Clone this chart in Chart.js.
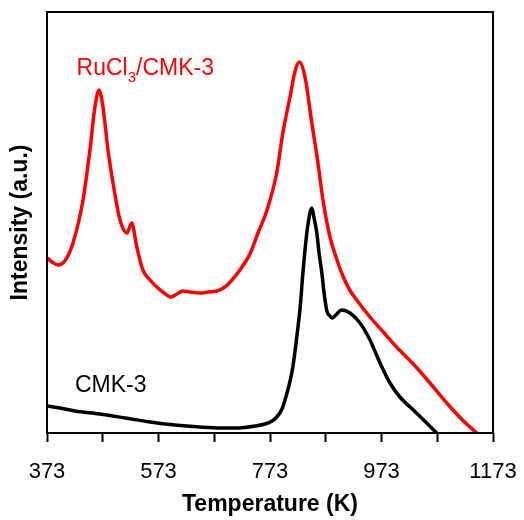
<!DOCTYPE html>
<html>
<head>
<meta charset="utf-8">
<script src="https://cdn.jsdelivr.net/npm/chart.js@4.4.1/dist/chart.umd.min.js"></script>
<style>
  html, body { margin: 0; padding: 0; background: #fff; }
  #wrap { width: 524px; height: 520px; }
</style>
</head>
<body>
<div id="wrap"><canvas id="tpd" width="524" height="520"></canvas></div>
<script>
    // Data (temperature in K, intensity in arbitrary units)
    const ruTemp = [373.5, 382, 392.7, 405, 419.6, 437.6, 450, 459, 466.3, 473.4, 482.4, 491.4, 504, 516.5, 525, 534, 545, 557.7, 570, 583, 595.4, 606, 617, 629.5, 647.4, 662, 678, 692, 704.8, 719, 737, 751.5, 767, 785, 796, 808.9, 818, 825.6, 835.8, 848, 859, 868, 880.6, 892, 904.5, 916, 928.5, 952.4, 976.2, 1000, 1030, 1060, 1090, 1120, 1144];
    const ruInt = [175, 171, 168, 172, 190, 233, 283, 326, 343, 326, 283, 250, 213, 200, 210, 186, 163, 153, 146, 140, 136, 139, 142, 141, 140, 141, 142, 146, 153, 163, 179, 200, 222, 260, 300, 336, 362, 371, 356, 310, 270, 233, 196, 175, 156, 143, 133, 116, 101, 86, 69, 50, 30, 12, 0];

    const cmkTemp = [374.8, 396, 423, 468, 513, 558, 602.6, 647, 683, 719, 746, 764, 776.6, 785, 794.5, 803.5, 809, 814, 821, 827, 832, 838, 840.4, 848, 852, 857, 861, 866, 870, 875, 880.6, 885, 891, 901.6, 916.5, 934.4, 952.4, 970.3, 988.2, 1006, 1030, 1054, 1072];
    const cmkInt = [27, 25, 22, 19, 15, 11, 8, 6, 5, 5, 7, 9, 12, 16, 24, 40, 52, 66, 96, 125, 160, 195, 206, 225, 215, 200, 180, 160, 140, 122, 117, 115, 118, 123, 120, 110, 93, 70, 50, 36, 23, 10, 0];

    const xTicks = [373, 573, 773, 973, 1173];
    const seriesNames = ["RuCl3/CMK-3", "CMK-3"];

    const toPoints = (xs, ys) => xs.map((x, i) => ({ x: x, y: ys[i] }));
    const FONT = 'Arial, "Liberation Sans", sans-serif';

    // Frame round the plot + series labels
    const framePlugin = {
      id: "frame",
      afterDatasetsDraw(chart) {
        const { ctx, chartArea: a, scales } = chart;
        ctx.save();
        ctx.strokeStyle = "#000";
        ctx.lineWidth = 2;
        ctx.strokeRect(a.left, a.top, a.right - a.left, a.bottom - a.top);

        // RuCl3/CMK-3 with subscript
        let x = scales.x.getPixelForValue(426);
        let y = scales.y.getPixelForValue(358);
        ctx.fillStyle = "#ff0000";
        ctx.textBaseline = "alphabetic";
        ctx.textAlign = "left";
        ctx.font = "23px " + FONT;
        ctx.fillText("RuCl", x, y);
        x += ctx.measureText("RuCl").width;
        ctx.font = "15px " + FONT;
        ctx.fillText("3", x, y + 7);
        x += ctx.measureText("3").width;
        ctx.font = "23px " + FONT;
        ctx.fillText("/CMK-3", x, y);

        // CMK-3
        ctx.fillStyle = "#000";
        ctx.fillText(seriesNames[1], scales.x.getPixelForValue(423), scales.y.getPixelForValue(41));
        ctx.restore();
      }
    };

    new Chart(document.getElementById("tpd"), {
      type: "line",
      data: {
        datasets: [
          {
            label: seriesNames[0],
            data: toPoints(ruTemp, ruInt),
            borderColor: "#ff0000",
            borderWidth: 3.5,
            pointRadius: 0,
            tension: 0.4,
            cubicInterpolationMode: "monotone",
          },
          {
            label: seriesNames[1],
            data: toPoints(cmkTemp, cmkInt),
            borderColor: "#000000",
            borderWidth: 3.5,
            pointRadius: 0,
            tension: 0.4,
            cubicInterpolationMode: "monotone",
          },
        ],
      },
      options: {
        responsive: false,
        animation: false,
        layout: { padding: { top: 12, right: 31, left: 0, bottom: 0 } },
        plugins: {
          legend: { display: false },
          tooltip: { enabled: false },
        },
        scales: {
          x: {
            type: "linear",
            min: 373,
            max: 1173,
            border: { display: false },
            grid: { drawOnChartArea: false, drawTicks: true, tickLength: 9, tickWidth: 2, color: "#000" },
            ticks: {
              stepSize: 100,
              autoSkip: false,
              maxRotation: 0,
              padding: 17,
              color: "#000",
              font: { family: FONT, size: 22 },
              callback: (v) => (xTicks.includes(v) ? String(v) : ""),
            },
            title: {
              display: true,
              text: "Temperature (K)",
              color: "#000",
              font: { family: FONT, size: 23, weight: "bold" },
              padding: { top: 0, bottom: 2 },
            },
            afterFit: (s) => {
              s.height = 87;
              s.paddingLeft = 0;
              s.paddingRight = 0;
            },
          },
          y: {
            min: 0,
            max: 421,
            border: { display: false },
            grid: { display: false },
            ticks: { display: false },
            title: {
              display: true,
              text: "Intensity (a.u.)",
              color: "#000",
              font: { family: FONT, size: 23, weight: "bold" },
              padding: { top: 7, bottom: 0 },
            },
            afterFit: (s) => { s.width = 47; },
          },
        },
      },
      plugins: [framePlugin],
    });
</script>
</body>
</html>
